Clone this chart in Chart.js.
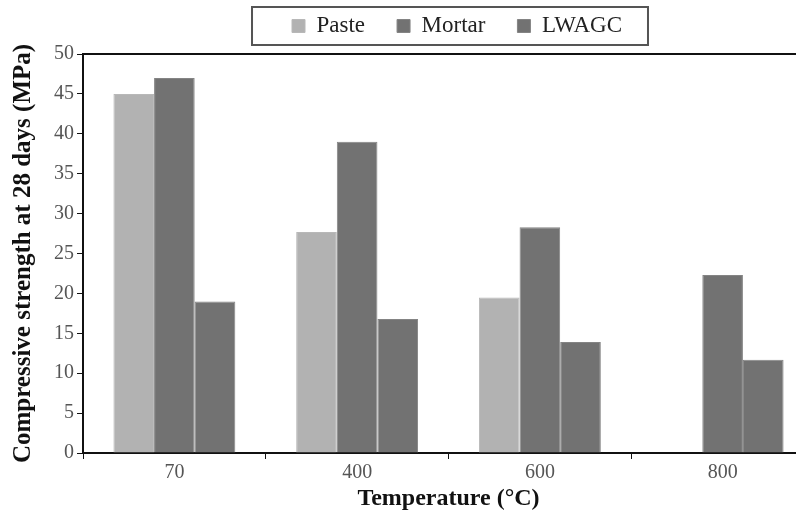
<!DOCTYPE html>
<html>
<head>
<meta charset="utf-8">
<script src="https://cdn.jsdelivr.net/npm/chart.js@4.4.1/dist/chart.umd.min.js"></script>
<style>
  html, body { margin: 0; padding: 0; background: #fff; overflow: hidden; }
</style>
</head>
<body>
<canvas id="chart" width="814" height="517"></canvas>
<script>
// --- DATA ---
const temperatures = ['70', '400', '600', '800'];
const pasteValues = [45, 27.7, 19.5, null];
const mortarValues = [47, 39, 28.3, 22.3];
const lwagcValues = [19, 16.8, 13.9, 11.7];
const seriesNames = ['Paste', 'Mortar', 'LWAGC'];

const SERIF = "'Liberation Serif', 'Times New Roman', serif";

// legend sits in a framed box, plot gets a top border line
const frameBits = {
    id: 'frameBits',
    afterInit(chart) {
        const lg = chart.legend;
        const fit = lg.fit;
        lg.fit = function () { fit.call(this); this.height = 54; };
    },
    afterLayout(chart) {
        const lg = chart.legend;
        lg.left += 50;
        lg.right += 50;
        lg.top = -17.5;
    },
    afterDraw(chart) {
        const ctx = chart.ctx;
        const area = chart.chartArea;
        ctx.save();
        ctx.strokeStyle = '#111';
        ctx.lineWidth = 2;
        ctx.beginPath();
        ctx.moveTo(area.left, area.top);
        ctx.lineTo(area.right, area.top);
        ctx.stroke();

        const boxes = chart.legend.legendHitBoxes;
        if (boxes && boxes.length) {
            const first = boxes[0];
            const last = boxes[boxes.length - 1];
            const cy = first.top + first.height / 2;
            const x0 = first.left - 40;
            const x1 = last.left + last.width + 26;
            ctx.strokeStyle = '#555';
            ctx.lineWidth = 2;
            ctx.strokeRect(x0, cy - 19, x1 - x0, 38);
        }
        ctx.restore();
    }
};

const ctx = document.getElementById('chart').getContext('2d');
new Chart(ctx, {
    type: 'bar',
    data: {
        labels: temperatures,
        datasets: [
            { label: seriesNames[0], data: pasteValues, backgroundColor: '#b2b2b2', borderColor: '#b8b8b8', borderWidth: 1 },
            { label: seriesNames[1], data: mortarValues, backgroundColor: '#727272', borderColor: '#848484', borderWidth: 1 },
            { label: seriesNames[2], data: lwagcValues, backgroundColor: '#727272', borderColor: '#848484', borderWidth: 1 }
        ]
    },
    options: {
        responsive: false,
        animation: false,
        categoryPercentage: 0.667,
        barPercentage: 1,
        layout: { padding: 0 },
        plugins: {
            tooltip: { enabled: false },
            legend: {
                position: 'top',
                labels: {
                    boxWidth: 13,
                    boxHeight: 13,
                    padding: 32,
                    color: '#222',
                    font: { family: SERIF, size: 23 }
                }
            }
        },
        scales: {
            x: {
                grid: { drawOnChartArea: false, drawTicks: true, tickLength: 6, color: '#111', offset: true },
                border: { display: true, color: '#111', width: 2 },
                ticks: { color: '#555', padding: 2, font: { family: SERIF, size: 20 } },
                title: {
                    display: true,
                    text: 'Temperature (°C)',
                    color: '#111',
                    font: { family: SERIF, size: 24, weight: 'bold' },
                    padding: { top: 0, bottom: 4 }
                },
                afterFit: (s) => { s.height = 64; }
            },
            y: {
                min: 0,
                max: 50,
                grid: { drawOnChartArea: false, drawTicks: true, tickLength: 6, color: '#111' },
                border: { display: true, color: '#111', width: 2 },
                ticks: { stepSize: 5, color: '#555', padding: 3, font: { family: SERIF, size: 20 } },
                title: {
                    display: true,
                    text: 'Compressive strength at 28 days (MPa)',
                    color: '#111',
                    font: { family: SERIF, size: 25, weight: 'bold' },
                    padding: { top: 9, bottom: 0 }
                },
                afterFit: (s) => { s.width = 83; }
            }
        }
    },
    plugins: [frameBits]
});
</script>
</body>
</html>
